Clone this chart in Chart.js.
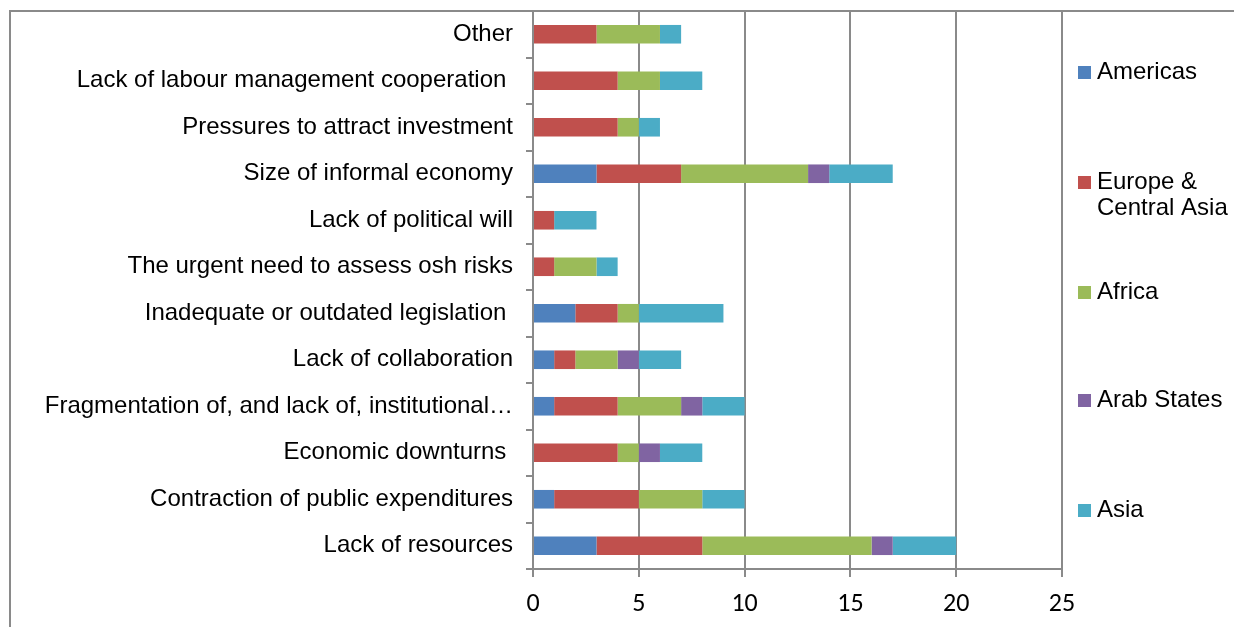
<!DOCTYPE html>
<html>
<head>
<meta charset="utf-8">
<script src="https://cdn.jsdelivr.net/npm/chart.js@4"></script>
<style>
  html, body { margin: 0; padding: 0; background: #fff; }
  #wrap { width: 1234px; height: 627px; position: relative; }
</style>
</head>
<body>
<div id="wrap"><canvas id="barriersChart" width="1234" height="627"></canvas></div>
<script>
// Barriers, listed top to bottom
const categories = [
  'Other',
  'Lack of labour management cooperation ',
  'Pressures to attract investment',
  'Size of informal economy',
  'Lack of political will',
  'The urgent need to assess osh risks',
  'Inadequate or outdated legislation ',
  'Lack of collaboration',
  'Fragmentation of, and lack of, institutional\u2026',
  'Economic downturns ',
  'Contraction of public expenditures',
  'Lack of resources'
];

const americas    = [0, 0, 0, 3, 0, 0, 2, 1, 1, 0, 1, 3];
const europe      = [3, 4, 4, 4, 1, 1, 2, 1, 3, 4, 4, 5];
const africa      = [3, 2, 1, 6, 0, 2, 1, 2, 3, 1, 3, 8];
const arabStates  = [0, 0, 0, 1, 0, 0, 0, 1, 1, 1, 0, 1];
const asia        = [1, 2, 1, 3, 2, 1, 4, 2, 2, 2, 2, 3];

const xTicks = [0, 5, 10, 15, 20, 25];

const seriesList = [
  { name: ['Americas'], data: americas, color: '#4F81BD' },
  { name: ['Europe &', 'Central Asia'], data: europe, color: '#C0504D' },
  { name: ['Africa'], data: africa, color: '#9BBB59' },
  { name: ['Arab States'], data: arabStates, color: '#8064A2' },
  { name: ['Asia'], data: asia, color: '#4BACC6' }
];

const gridGray = '#8a8a8a';
const labelFont = '"Liberation Sans", Arial, sans-serif';

// frame around the whole chart plus the legend on the right
const framePlugin = {
  id: 'frame',
  beforeDraw(chart) {
    const c = chart.ctx;
    c.save();
    c.fillStyle = '#fff';
    c.fillRect(0, 0, chart.width, chart.height);
    c.strokeStyle = gridGray;
    c.lineWidth = 2;
    c.beginPath();
    c.moveTo(10, chart.height + 2);
    c.lineTo(10, 11);
    c.lineTo(chart.width + 2, 11);
    c.stroke();
    c.restore();
  },
  afterDraw(chart) {
    const c = chart.ctx;
    const legendY = [72, 182, 292, 400.5, 510.5];
    c.save();
    c.font = '24px ' + labelFont;
    c.textBaseline = 'middle';
    c.textAlign = 'left';
    seriesList.forEach((s, i) => {
      const y = legendY[i];
      c.fillStyle = s.color;
      c.fillRect(1078, Math.round(y - 6.5), 13, 13);
      c.fillStyle = '#000';
      s.name.forEach((line, j) => c.fillText(line, 1097, y + j * 26));
    });
    c.restore();
  }
};

new Chart(document.getElementById('barriersChart'), {
  type: 'bar',
  data: {
    labels: categories,
    datasets: seriesList.map(s => ({
      label: s.name.join(' '),
      data: s.data,
      backgroundColor: s.color,
      borderWidth: 0,
      barPercentage: 0.4,
      categoryPercentage: 1
    }))
  },
  options: {
    indexAxis: 'y',
    responsive: false,
    animation: false,
    layout: { padding: { left: 0, top: 11, right: 172, bottom: 0 } },
    plugins: {
      legend: { display: false },
      tooltip: { enabled: false }
    },
    scales: {
      x: {
        stacked: true,
        min: 0,
        max: 25,
        afterBuildTicks: axis => { axis.ticks = xTicks.map(v => ({ value: v })); },
        afterFit: axis => { axis.height = 58; },
        grid: { color: gridGray, lineWidth: 2, tickLength: 8 },
        border: { color: gridGray, width: 2 },
        ticks: {
          color: '#000',
          padding: 12,
          font: { family: 'Carlito, "Liberation Sans", sans-serif', size: 26 }
        }
      },
      y: {
        stacked: true,
        afterFit: axis => {
          axis.width = 533;
          axis.paddingTop = 0;
          axis.paddingBottom = 0;
        },
        grid: { drawOnChartArea: false, offset: true, color: gridGray, lineWidth: 2, tickLength: 7 },
        border: { color: gridGray, width: 2 },
        ticks: {
          color: '#000',
          padding: 13,
          autoSkip: false,
          font: { family: labelFont, size: 24 }
        }
      }
    }
  },
  plugins: [framePlugin]
});
</script>
</body>
</html>
